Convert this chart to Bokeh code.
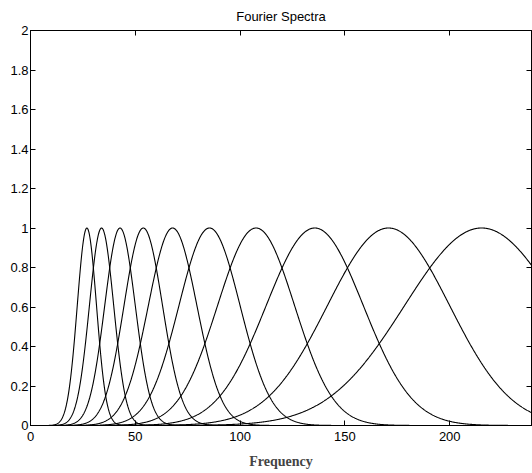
import numpy as np
from bokeh.plotting import figure
from bokeh.models import LinearAxis, FixedTicker, Range1d, CustomLabelingPolicy
from bokeh.embed import file_html
from bokeh.resources import INLINE

# Values
peak_freq = [26.9, 33.9, 42.7, 53.8, 67.8, 85.4, 107.6, 135.6, 170.8, 215.2]
bandwidth = [4.6, 5.8, 7.3, 9.2, 11.6, 14.6, 18.4, 23.2, 29.2, 36.8]
peak_amp = [1.0] * 10
x_ticks = [0, 50, 100, 150, 200]
y_ticks = [0, 0.2, 0.4, 0.6, 0.8, 1, 1.2, 1.4, 1.6, 1.8, 2]
y_tick_labels = ["0", "0.2", "0.4", "0.6", "0.8", "1", "1.2", "1.4", "1.6", "1.8", "2"]
x_min, x_max = 0, 239
freq = np.linspace(x_min, x_max, 1200)

p = figure(width=532, height=473, output_backend="svg", toolbar_location=None,
           x_range=Range1d(x_min, x_max), y_range=Range1d(0, 2),
           x_axis_location=None, y_axis_location=None,
           min_border_left=30, min_border_right=1, min_border_top=29, min_border_bottom=48,
           title="Fourier Spectra")
p.title.align = "center"
p.title.text_font = "Liberation Sans"
p.title.text_font_size = "13px"
p.title.text_font_style = "normal"
p.title.text_color = "black"
p.title.offset = 0
p.title.standoff = 13
p.grid.visible = False
p.outline_line_color = "black"
p.background_fill_color = "white"
p.border_fill_color = "white"

for c, s, a in zip(peak_freq, bandwidth, peak_amp):
    y = a * np.exp(-((freq - c) ** 2) / (2 * s ** 2))
    p.line(freq, y, line_color="black", line_width=1.1)

hide_all = CustomLabelingPolicy(code="""
try { for (let i = 0; i < indices.size; i++) { indices.unset(i) } } catch (e) {}
return indices
""")

def style(ax, labels=True):
    ax.axis_line_color = "black"
    ax.major_tick_line_color = "black"
    ax.major_tick_in = 5
    ax.major_tick_out = 0
    ax.minor_tick_line_color = None
    ax.major_label_text_font = "Liberation Sans"
    ax.major_label_text_color = "black"
    if labels:
        ax.major_label_text_font_size = "13px"
    else:
        ax.major_label_text_font_size = "0px"
        ax.major_label_standoff = 0
        ax.major_label_policy = hide_all

xb = LinearAxis(ticker=FixedTicker(ticks=x_ticks), axis_label="Frequency")
style(xb)
xb.major_label_standoff = 6
xb.axis_label_text_font = "Liberation Serif"
xb.axis_label_text_font_style = "bold"
xb.axis_label_text_font_size = "14px"
xb.axis_label_standoff = 10
p.add_layout(xb, "below")

yl = LinearAxis(ticker=FixedTicker(ticks=y_ticks))
style(yl)
yl.major_label_standoff = 2
yl.major_label_overrides = {t: l for t, l in zip(y_ticks, y_tick_labels)}
p.add_layout(yl, "left")

xt = LinearAxis(ticker=FixedTicker(ticks=x_ticks))
style(xt, labels=False)
p.add_layout(xt, "above")

yr = LinearAxis(ticker=FixedTicker(ticks=y_ticks))
style(yr, labels=False)
p.add_layout(yr, "right")

open("out.html", "w").write(file_html(p, INLINE))
